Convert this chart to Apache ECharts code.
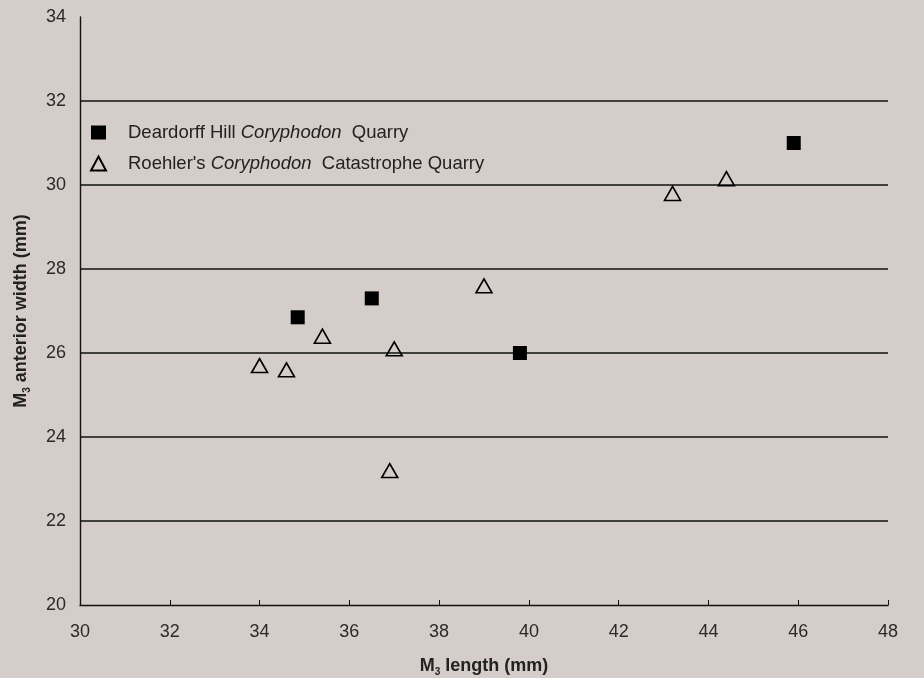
<!DOCTYPE html>
<html><head><meta charset="utf-8">
<script src="https://cdn.jsdelivr.net/npm/echarts@6/dist/echarts.min.js"></script>
<style>html,body{margin:0;padding:0;background:#d4cdc9;}#c{width:924px;height:678px;}</style>
</head><body><div id="c"></div>
<script>
const seriesNames = ["Deardorff Hill Coryphodon Quarry", "Roehler's Coryphodon Catastrophe Quarry"];
const deardorffLength = [34.85, 36.5, 39.8, 45.9];
const deardorffWidth  = [26.85, 27.3, 26.0, 31.0];
const roehlerLength = [34.0, 34.6, 35.4, 37.0, 36.9, 39.0, 43.2, 44.4];
const roehlerWidth  = [25.7, 25.6, 26.4, 26.1, 23.2, 27.6, 29.8, 30.15];
const xTicks = [30, 32, 34, 36, 38, 40, 42, 44, 46, 48];
const yTicks = [20, 22, 24, 26, 28, 30, 32, 34];

const pairs = (xs, ys) => xs.map((x, i) => [x, ys[i]]);
const font = 'Liberation Sans, Arial, sans-serif';
const chart = echarts.init(document.getElementById('c'));
const gridColors = yTicks.map((v, i) => (i === 0 || i === yTicks.length - 1) ? 'rgba(0,0,0,0)' : '#111');
const titleRich = {
  b: {fontFamily: font, fontSize: 18, fontWeight: 'bold', color: '#222'},
  s: {fontFamily: font, fontSize: 10, fontWeight: 'bold', color: '#222', verticalAlign: 'bottom', padding: [12, 0, 0, 0]}
};
chart.setOption({
  backgroundColor: '#d4cdc9',
  animation: false,
  grid: {left: 80, right: 36, top: 17, bottom: 73, outerBoundsMode: 'none', containLabel: false},
  legend: {
    orient: 'vertical', left: 85, top: 118, itemGap: 12,
    itemWidth: 15, itemHeight: 14,
    data: seriesNames,
    formatter: function (name) {
      if (name === seriesNames[0]) return '{n|Deardorff Hill }{i|Coryphodon}{n|  Quarry}';
      return "{n|Roehler's }{i|Coryphodon}{n|  Catastrophe Quarry}";
    },
    textStyle: {
      fontFamily: font, fontSize: 18.5, color: '#222', padding: [0, 0, 0, 17],
      rich: {
        n: {fontFamily: font, fontSize: 18.5, color: '#222'},
        i: {fontFamily: font, fontSize: 18.5, color: '#222', fontStyle: 'italic'}
      }
    }
  },
  xAxis: {
    type: 'value', min: 30, max: 48, interval: 2,
    name: '{b|M}{s|3}{b| length (mm)}', nameLocation: 'middle', nameGap: 50,
    nameTextStyle: {rich: titleRich},
    axisLine: {show: true, lineStyle: {color: '#111', width: 1.4}},
    axisTick: {show: true, inside: true, length: 5, lineStyle: {color: '#111'}},
    axisLabel: {fontFamily: font, fontSize: 18, color: '#2a2a2a', margin: 18},
    splitLine: {show: false}
  },
  yAxis: {
    type: 'value', min: 20, max: 34, interval: 2,
    name: '{b|M}{s|3}{b| anterior width (mm)}', nameLocation: 'middle', nameGap: 48, nameRotate: 90,
    nameTextStyle: {rich: titleRich},
    axisLine: {show: true, lineStyle: {color: '#111', width: 1.4}},
    axisTick: {show: false},
    axisLabel: {fontFamily: font, fontSize: 18, color: '#2a2a2a', margin: 14},
    splitLine: {show: true, lineStyle: {color: gridColors, width: 1.6}}
  },
  series: [
    {
      name: seriesNames[0], type: 'scatter', symbol: 'rect', symbolSize: 14,
      itemStyle: {color: '#000', opacity: 1},
      data: pairs(deardorffLength, deardorffWidth)
    },
    {
      name: seriesNames[1], type: 'scatter', symbol: 'triangle', symbolSize: [16, 14],
      itemStyle: {color: 'rgba(0,0,0,0)', borderColor: '#000', borderWidth: 1.6, opacity: 1},
      data: pairs(roehlerLength, roehlerWidth)
    }
  ]
});
</script></body></html>
